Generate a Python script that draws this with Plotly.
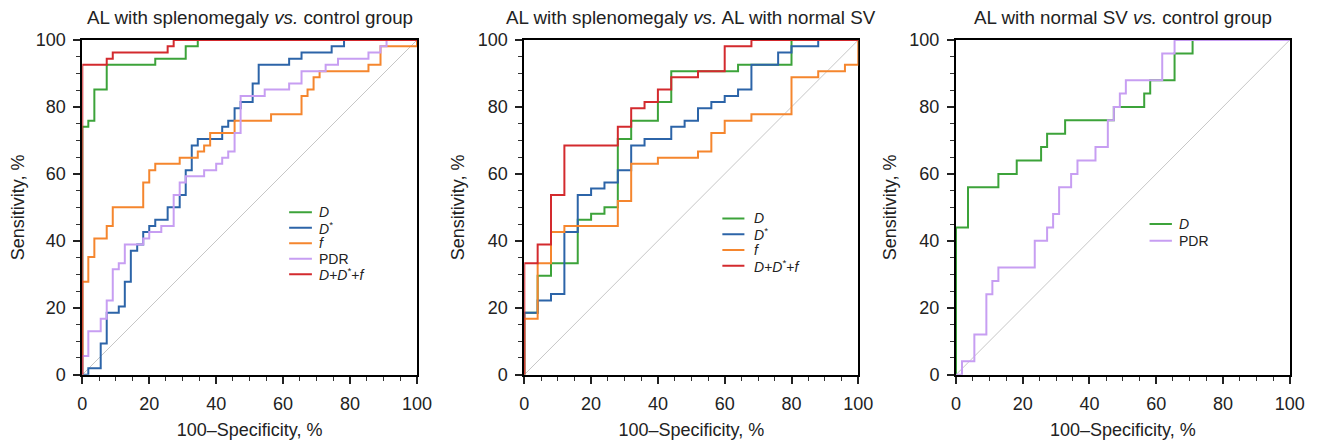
import plotly.graph_objects as go

FONT = "Liberation Sans, Arial, Helvetica, sans-serif"
TEXT = "#222222"

# ---------------- labels ----------------
panel_titles = [
    "AL with splenomegaly <i>vs.</i> control group",
    "AL with splenomegaly <i>vs.</i> AL with normal SV",
    "AL with normal SV <i>vs.</i> control group",
]
x_title = "100–Specificity, %"
y_title = "Sensitivity, %"
tick_vals = [0, 20, 40, 60, 80, 100]

name_D = "<i>D</i>"
name_Ds = "<i>D</i><sup>*</sup>"
name_f = "<i>f</i>"
name_PDR = "PDR"
name_all = "<i>D</i>+<i>D</i><sup>*</sup>+<i>f</i>"

col_D = "#3ca33a"
col_Ds = "#2c64a8"
col_f = "#f5862e"
col_PDR = "#c79ef2"
col_all = "#d32a2e"
col_ref = "#c6c6c6"

# ---------------- data: ROC step points (100-specificity %, sensitivity %) ----------------
# Panel 1: AL with splenomegaly vs. control group
p1_D_x = [0, 0, 1.8, 3.6, 7.3, 21.8, 30.9, 34.5, 100]
p1_D_y = [0, 74.1, 75.9, 85.2, 92.6, 94.4, 98.1, 100, 100]

p1_Ds_x = [0, 1.8, 5.5, 7.3, 10.9, 12.7, 14.5, 16.4, 18.2, 20.0, 21.8, 25.5, 29.1, 30.9,
           32.7, 34.5, 41.8, 43.6, 45.5, 47.3, 50.9, 52.7, 61.8, 65.5, 74.5, 78.2, 100]
p1_Ds_y = [0, 1.9, 9.3, 18.5, 20.4, 27.8, 37.0, 38.9, 42.6, 44.4, 46.3, 50.0, 53.7, 61.1,
           68.5, 70.4, 74.1, 75.9, 79.6, 81.5, 87.0, 92.6, 94.4, 96.3, 98.1, 100, 100]

p1_f_x = [0, 0, 1.8, 3.6, 7.3, 9.1, 18.2, 20.0, 21.8, 29.1, 34.5, 36.4, 38.2, 45.5,
          56.4, 65.5, 67.3, 69.1, 70.9, 85.5, 89.1, 100]
p1_f_y = [0, 27.8, 35.2, 40.7, 44.4, 50.0, 57.4, 61.1, 63.0, 64.8, 66.7, 68.5, 72.2, 75.9,
          77.8, 83.3, 85.2, 88.9, 90.7, 92.6, 98.1, 100]

p1_PDR_x = [0, 0, 1.8, 5.5, 7.3, 9.1, 10.9, 12.7, 18.2, 20.0, 23.6, 27.3, 29.1, 30.9, 36.4,
            40.0, 41.8, 43.6, 45.5, 47.3, 54.5, 61.8, 65.5, 72.7, 76.4, 85.5, 89.1, 90.9, 100]
p1_PDR_y = [0, 5.6, 13.0, 16.7, 22.2, 31.5, 33.3, 38.9, 40.7, 42.6, 44.4, 53.7, 57.4, 59.3, 61.1,
            63.0, 64.8, 66.7, 72.2, 83.3, 85.2, 87.0, 90.7, 92.6, 94.4, 96.3, 98.1, 100, 100]

p1_all_x = [0, 0, 7.3, 9.1, 25.5, 27.3, 100]
p1_all_y = [0, 92.6, 94.4, 96.3, 98.1, 100, 100]

# Panel 2: AL with splenomegaly vs. AL with normal SV
p2_D_x = [0, 0, 4, 8, 16, 20, 24, 28, 32, 40, 44, 64, 80, 100]
p2_D_y = [0, 18.5, 29.6, 33.3, 46.3, 48.1, 50.0, 70.4, 75.9, 81.5, 90.7, 92.6, 100, 100]

p2_Ds_x = [0, 0, 4, 8, 12, 16, 20, 24, 28, 32, 36, 44, 48, 52, 56, 60, 64, 68, 76, 80, 88, 100]
p2_Ds_y = [0, 18.5, 22.2, 24.1, 42.6, 53.7, 55.6, 57.4, 61.1, 68.5, 70.4, 74.1, 75.9, 79.6,
           81.5, 83.3, 85.2, 92.6, 96.3, 98.1, 100, 100]

p2_f_x = [0, 0, 4, 8, 12, 28, 32, 40, 52, 56, 60, 68, 80, 88, 96, 100]
p2_f_y = [0, 16.7, 33.3, 42.6, 44.4, 51.9, 63.0, 64.8, 66.7, 72.2, 75.9, 77.8, 88.9, 90.7, 92.6, 100]

p2_all_x = [0, 0, 4, 8, 12, 28, 32, 36, 40, 44, 52, 60, 68, 100]
p2_all_y = [0, 33.3, 38.9, 53.7, 68.5, 74.1, 79.6, 81.5, 85.2, 88.9, 90.7, 98.1, 100, 100]

# Panel 3: AL with normal SV vs. control group
p3_D_x = [0, 0, 3.6, 12.7, 18.2, 25.5, 27.3, 32.7, 47.3, 56.4, 58.2, 65.5, 70.9, 100]
p3_D_y = [0, 44, 56, 60, 64, 68, 72, 76, 80, 84, 88, 96, 100, 100]

p3_PDR_x = [0, 1.8, 5.5, 9.1, 10.9, 12.7, 23.6, 27.3, 29.1, 30.9, 34.5, 36.4, 41.8, 45.5,
            47.3, 49.1, 50.9, 61.8, 65.5, 100]
p3_PDR_y = [0, 4, 12, 24, 28, 32, 40, 44, 48, 56, 60, 64, 68, 76,
            80, 84, 88, 96, 100, 100]

ref_x = [0, 100]
ref_y = [0, 100]

panels = [
    [(name_D, col_D, p1_D_x, p1_D_y), (name_Ds, col_Ds, p1_Ds_x, p1_Ds_y),
     (name_f, col_f, p1_f_x, p1_f_y), (name_PDR, col_PDR, p1_PDR_x, p1_PDR_y),
     (name_all, col_all, p1_all_x, p1_all_y)],
    [(name_D, col_D, p2_D_x, p2_D_y), (name_Ds, col_Ds, p2_Ds_x, p2_Ds_y),
     (name_f, col_f, p2_f_x, p2_f_y), (name_all, col_all, p2_all_x, p2_all_y)],
    [(name_D, col_D, p3_D_x, p3_D_y), (name_PDR, col_PDR, p3_PDR_x, p3_PDR_y)],
]

# ---------------- layout geometry ----------------
# the page body adds an 8px margin, so the figure is drawn 8px in from the window corner
OFF = 8
W, H = 1317 - OFF, 440 - OFF
x_px = [(82.3, 417.0), (524.3, 858.3), (956.0, 1289.7)]   # window pixels
y_px = (40.0, 374.7)
y_domain = [1 - (y_px[1] - OFF) / H, 1 - (y_px[0] - OFF) / H]
title_y_px = 18
# legend placement in data units (swatch start, swatch end, text x, first row y, row step)
legend_pos = [(61.8, 68.6, 70.2, 48.5, 4.63), (59.3, 65.9, 68.3, 46.7, 4.72), (58.0, 64.7, 66.2, 45.0, 5.0)]

fig = go.Figure()
layout = dict(
    width=W, height=H,
    margin=dict(l=0, r=0, t=0, b=0, autoexpand=False),
    paper_bgcolor="white", plot_bgcolor="white",
    font=dict(family=FONT, color=TEXT, size=18),
    showlegend=False,
    annotations=[], shapes=[],
)

for i, series in enumerate(panels):
    sfx = "" if i == 0 else str(i + 1)
    xa, ya = "x" + sfx, "y" + sfx
    fig.add_trace(go.Scatter(x=ref_x, y=ref_y, mode="lines", xaxis=xa, yaxis=ya,
                             line=dict(color=col_ref, width=1), hoverinfo="skip", showlegend=False))
    for name, col, xs, ys in series:
        fig.add_trace(go.Scatter(x=xs, y=ys, mode="lines", name=name, xaxis=xa, yaxis=ya,
                                 line=dict(color=col, width=2, shape="hv"), cliponaxis=False))
    common = dict(
        range=[0, 100], tickmode="linear", tick0=0, dtick=20,
        ticks="outside", ticklen=7, tickwidth=1.5, tickcolor="#222",
        minor=dict(dtick=5, ticks="outside", ticklen=4, tickwidth=1.2, tickcolor="#333"),
        showline=True, mirror=True, linecolor="black", linewidth=2,
        showgrid=False, zeroline=False, layer="below traces", automargin=False,
        tickfont=dict(size=18, color=TEXT),
    )
    d0, d1 = x_px[i][0] - OFF, x_px[i][1] - OFF
    layout["xaxis" + sfx] = dict(common, domain=[d0 / W, d1 / W], anchor=ya, ticklabelstandoff=5,
                                 title=dict(text=x_title, font=dict(size=18), standoff=11))
    layout["yaxis" + sfx] = dict(common, domain=y_domain, anchor=xa, ticklabelstandoff=4,
                                 title=dict(text=y_title, font=dict(size=18), standoff=8))
    layout["annotations"].append(dict(
        text=panel_titles[i], x=(d0 + d1) / 2 / W, y=1 - (title_y_px - OFF) / H,
        xref="paper", yref="paper", xanchor="center", yanchor="middle", showarrow=False,
        font=dict(size=18.8, color=TEXT)))
    lx0, lx1, tx, ry, step = legend_pos[i]
    for k, (name, col, xs, ys) in enumerate(series):
        yy = ry - k * step
        layout["shapes"].append(dict(type="line", xref=xa, yref=ya, x0=lx0, x1=lx1, y0=yy, y1=yy,
                                     line=dict(color=col, width=2)))
        layout["annotations"].append(dict(text=name, x=tx, y=yy, xref=xa, yref=ya,
                                          xanchor="left", yanchor="middle", showarrow=False,
                                          font=dict(size=14, color=TEXT)))

fig.update_layout(**layout)
fig.write_html("out.html")
